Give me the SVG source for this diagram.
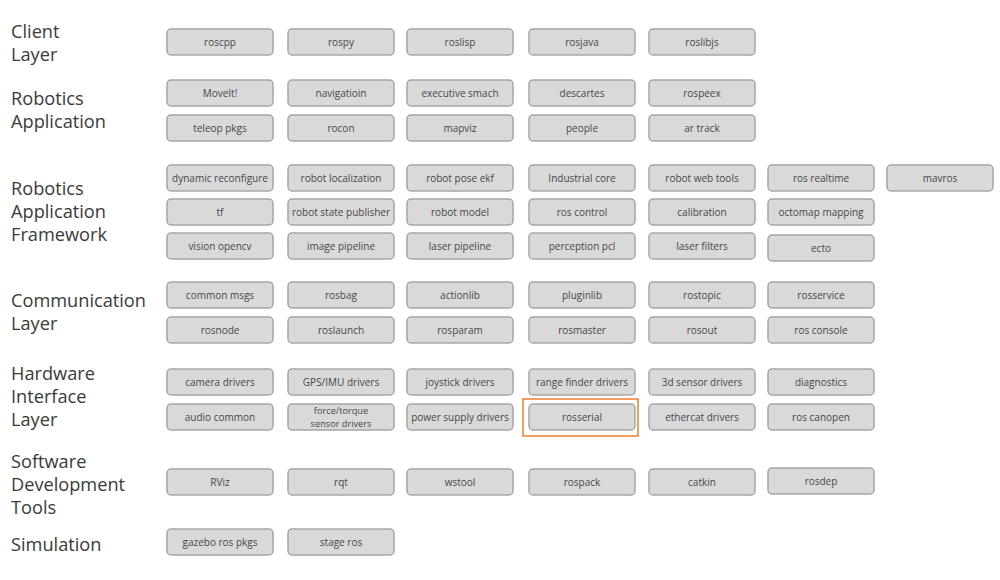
<svg xmlns="http://www.w3.org/2000/svg" width="1000" height="580" viewBox="0 0 1000 580">
<style>
.lbl{font-family:"Open Sans","Noto Sans",sans-serif;font-size:18.2px;fill:#3a3a3a}
.n rect{fill:#d9d9d9;stroke:#a6a6a6;stroke-width:1.5}
.n text{font-family:"Open Sans","Noto Sans",sans-serif;font-size:10px;fill:#474747;text-anchor:middle}
.n text.sm{font-size:9.2px}
.hl{fill:none;stroke:#ed7d31;stroke-width:1.5}
</style>
<rect width="1000" height="580" fill="#ffffff"/>
<g id="labels">
<text class="lbl" x="11" y="38">Client</text><text class="lbl" x="11" y="61">Layer</text>
<text class="lbl" x="11" y="105">Robotics</text><text class="lbl" x="11" y="128">Application</text>
<text class="lbl" x="11" y="195">Robotics</text><text class="lbl" x="11" y="218">Application</text><text class="lbl" x="11" y="241">Framework</text>
<text class="lbl" x="11" y="307">Communication</text><text class="lbl" x="11" y="330">Layer</text>
<text class="lbl" x="11" y="380">Hardware</text><text class="lbl" x="11" y="403">Interface</text><text class="lbl" x="11" y="426">Layer</text>
<text class="lbl" x="11" y="468">Software</text><text class="lbl" x="11" y="491">Development</text><text class="lbl" x="11" y="514">Tools</text>
<text class="lbl" x="11" y="551">Simulation</text>
</g>
<g id="connectors"></g>
<g id="client">
<g id="roscpp" class="n"><rect x="167" y="29" width="106" height="26" rx="4"/><text x="220" y="46">roscpp</text></g>
<g id="rospy" class="n"><rect x="288" y="29" width="106" height="26" rx="4"/><text x="341" y="46">rospy</text></g>
<g id="roslisp" class="n"><rect x="407" y="29" width="106" height="26" rx="4"/><text x="460" y="46">roslisp</text></g>
<g id="rosjava" class="n"><rect x="529" y="29" width="106" height="26" rx="4"/><text x="582" y="46">rosjava</text></g>
<g id="roslibjs" class="n"><rect x="649" y="29" width="106" height="26" rx="4"/><text x="702" y="46">roslibjs</text></g>
</g>
<g id="app">
<g id="moveit" class="n"><rect x="167" y="80" width="106" height="26" rx="4"/><text x="220" y="97">MoveIt!</text></g>
<g id="navigatioin" class="n"><rect x="288" y="80" width="106" height="26" rx="4"/><text x="341" y="97">navigatioin</text></g>
<g id="executive-smach" class="n"><rect x="407" y="80" width="106" height="26" rx="4"/><text x="460" y="97">executive smach</text></g>
<g id="descartes" class="n"><rect x="529" y="80" width="106" height="26" rx="4"/><text x="582" y="97">descartes</text></g>
<g id="rospeex" class="n"><rect x="649" y="80" width="106" height="26" rx="4"/><text x="702" y="97">rospeex</text></g>
<g id="teleop-pkgs" class="n"><rect x="167" y="115" width="106" height="26" rx="4"/><text x="220" y="132">teleop pkgs</text></g>
<g id="rocon" class="n"><rect x="288" y="115" width="106" height="26" rx="4"/><text x="341" y="132">rocon</text></g>
<g id="mapviz" class="n"><rect x="407" y="115" width="106" height="26" rx="4"/><text x="460" y="132">mapviz</text></g>
<g id="people" class="n"><rect x="529" y="115" width="106" height="26" rx="4"/><text x="582" y="132">people</text></g>
<g id="ar-track" class="n"><rect x="649" y="115" width="106" height="26" rx="4"/><text x="702" y="132">ar track</text></g>
</g>
<g id="framework">
<g id="dynamic-reconfigure" class="n"><rect x="167" y="165" width="106" height="26" rx="4"/><text x="220" y="182">dynamic reconfigure</text></g>
<g id="robot-localization" class="n"><rect x="288" y="165" width="106" height="26" rx="4"/><text x="341" y="182">robot localization</text></g>
<g id="robot-pose-ekf" class="n"><rect x="407" y="165" width="106" height="26" rx="4"/><text x="460" y="182">robot pose ekf</text></g>
<g id="industrial-core" class="n"><rect x="529" y="165" width="106" height="26" rx="4"/><text x="582" y="182">Industrial core</text></g>
<g id="robot-web-tools" class="n"><rect x="649" y="165" width="106" height="26" rx="4"/><text x="702" y="182">robot web tools</text></g>
<g id="ros-realtime" class="n"><rect x="768" y="165" width="106" height="26" rx="4"/><text x="821" y="182">ros realtime</text></g>
<g id="mavros" class="n"><rect x="887" y="165" width="106" height="26" rx="4"/><text x="940" y="182">mavros</text></g>
<g id="tf" class="n"><rect x="167" y="199" width="106" height="26" rx="4"/><text x="220" y="216">tf</text></g>
<g id="robot-state-publisher" class="n"><rect x="288" y="199" width="106" height="26" rx="4"/><text x="341" y="216">robot state publisher</text></g>
<g id="robot-model" class="n"><rect x="407" y="199" width="106" height="26" rx="4"/><text x="460" y="216">robot model</text></g>
<g id="ros-control" class="n"><rect x="529" y="199" width="106" height="26" rx="4"/><text x="582" y="216">ros control</text></g>
<g id="calibration" class="n"><rect x="649" y="199" width="106" height="26" rx="4"/><text x="702" y="216">calibration</text></g>
<g id="octomap-mapping" class="n"><rect x="768" y="199" width="106" height="26" rx="4"/><text x="821" y="216">octomap mapping</text></g>
<g id="vision-opencv" class="n"><rect x="167" y="233" width="106" height="26" rx="4"/><text x="220" y="250">vision opencv</text></g>
<g id="image-pipeline" class="n"><rect x="288" y="233" width="106" height="26" rx="4"/><text x="341" y="250">image pipeline</text></g>
<g id="laser-pipeline" class="n"><rect x="407" y="233" width="106" height="26" rx="4"/><text x="460" y="250">laser pipeline</text></g>
<g id="perception-pcl" class="n"><rect x="529" y="233" width="106" height="26" rx="4"/><text x="582" y="250">perception pcl</text></g>
<g id="laser-filters" class="n"><rect x="649" y="233" width="106" height="26" rx="4"/><text x="702" y="250">laser filters</text></g>
<g id="ecto" class="n"><rect x="768" y="235" width="106" height="26" rx="4"/><text x="821" y="252">ecto</text></g>
</g>
<g id="communication">
<g id="common-msgs" class="n"><rect x="167" y="282" width="106" height="26" rx="4"/><text x="220" y="299">common msgs</text></g>
<g id="rosbag" class="n"><rect x="288" y="282" width="106" height="26" rx="4"/><text x="341" y="299">rosbag</text></g>
<g id="actionlib" class="n"><rect x="407" y="282" width="106" height="26" rx="4"/><text x="460" y="299">actionlib</text></g>
<g id="pluginlib" class="n"><rect x="529" y="282" width="106" height="26" rx="4"/><text x="582" y="299">pluginlib</text></g>
<g id="rostopic" class="n"><rect x="649" y="282" width="106" height="26" rx="4"/><text x="702" y="299">rostopic</text></g>
<g id="rosservice" class="n"><rect x="768" y="282" width="106" height="26" rx="4"/><text x="821" y="299">rosservice</text></g>
<g id="rosnode" class="n"><rect x="167" y="317" width="106" height="26" rx="4"/><text x="220" y="334">rosnode</text></g>
<g id="roslaunch" class="n"><rect x="288" y="317" width="106" height="26" rx="4"/><text x="341" y="334">roslaunch</text></g>
<g id="rosparam" class="n"><rect x="407" y="317" width="106" height="26" rx="4"/><text x="460" y="334">rosparam</text></g>
<g id="rosmaster" class="n"><rect x="529" y="317" width="106" height="26" rx="4"/><text x="582" y="334">rosmaster</text></g>
<g id="rosout" class="n"><rect x="649" y="317" width="106" height="26" rx="4"/><text x="702" y="334">rosout</text></g>
<g id="ros-console" class="n"><rect x="768" y="317" width="106" height="26" rx="4"/><text x="821" y="334">ros console</text></g>
</g>
<g id="hardware">
<g id="camera-drivers" class="n"><rect x="167" y="369" width="106" height="26" rx="4"/><text x="220" y="386">camera drivers</text></g>
<g id="gps-imu-drivers" class="n"><rect x="288" y="369" width="106" height="26" rx="4"/><text x="341" y="386">GPS/IMU drivers</text></g>
<g id="joystick-drivers" class="n"><rect x="407" y="369" width="106" height="26" rx="4"/><text x="460" y="386">joystick drivers</text></g>
<g id="range-finder-drivers" class="n"><rect x="529" y="369" width="106" height="26" rx="4"/><text x="582" y="386">range finder drivers</text></g>
<g id="3d-sensor-drivers" class="n"><rect x="649" y="369" width="106" height="26" rx="4"/><text x="702" y="386">3d sensor drivers</text></g>
<g id="diagnostics" class="n"><rect x="768" y="369" width="106" height="26" rx="4"/><text x="821" y="386">diagnostics</text></g>
<g id="audio-common" class="n"><rect x="167" y="404" width="106" height="26" rx="4"/><text x="220" y="421">audio common</text></g>
<g id="force-torque" class="n"><rect x="288" y="404" width="106" height="26" rx="4"/><text class="sm" x="341" y="414">force/torque</text><text class="sm" x="341" y="426.5">sensor drivers</text></g>
<g id="power-supply-drivers" class="n"><rect x="407" y="404" width="106" height="26" rx="4"/><text x="460" y="421">power supply drivers</text></g>
<g id="rosserial" class="n"><rect x="529" y="404" width="106" height="26" rx="4"/><text x="582" y="421">rosserial</text></g>
<g id="ethercat-drivers" class="n"><rect x="649" y="404" width="106" height="26" rx="4"/><text x="702" y="421">ethercat drivers</text></g>
<g id="ros-canopen" class="n"><rect x="768" y="404" width="106" height="26" rx="4"/><text x="821" y="421">ros canopen</text></g>
<rect id="highlight" class="hl" x="523" y="399" width="115" height="37"/>
</g>
<g id="tools">
<g id="rviz" class="n"><rect x="167" y="469" width="106" height="26" rx="4"/><text x="220" y="486">RViz</text></g>
<g id="rqt" class="n"><rect x="288" y="469" width="106" height="26" rx="4"/><text x="341" y="486">rqt</text></g>
<g id="wstool" class="n"><rect x="407" y="469" width="106" height="26" rx="4"/><text x="460" y="486">wstool</text></g>
<g id="rospack" class="n"><rect x="529" y="469" width="106" height="26" rx="4"/><text x="582" y="486">rospack</text></g>
<g id="catkin" class="n"><rect x="649" y="469" width="106" height="26" rx="4"/><text x="702" y="486">catkin</text></g>
<g id="rosdep" class="n"><rect x="768" y="468" width="106" height="26" rx="4"/><text x="821" y="485">rosdep</text></g>
</g>
<g id="simulation">
<g id="gazebo-ros-pkgs" class="n"><rect x="167" y="529" width="106" height="26" rx="4"/><text x="220" y="546">gazebo ros pkgs</text></g>
<g id="stage-ros" class="n"><rect x="288" y="529" width="106" height="26" rx="4"/><text x="341" y="546">stage ros</text></g>
</g>
</svg>
